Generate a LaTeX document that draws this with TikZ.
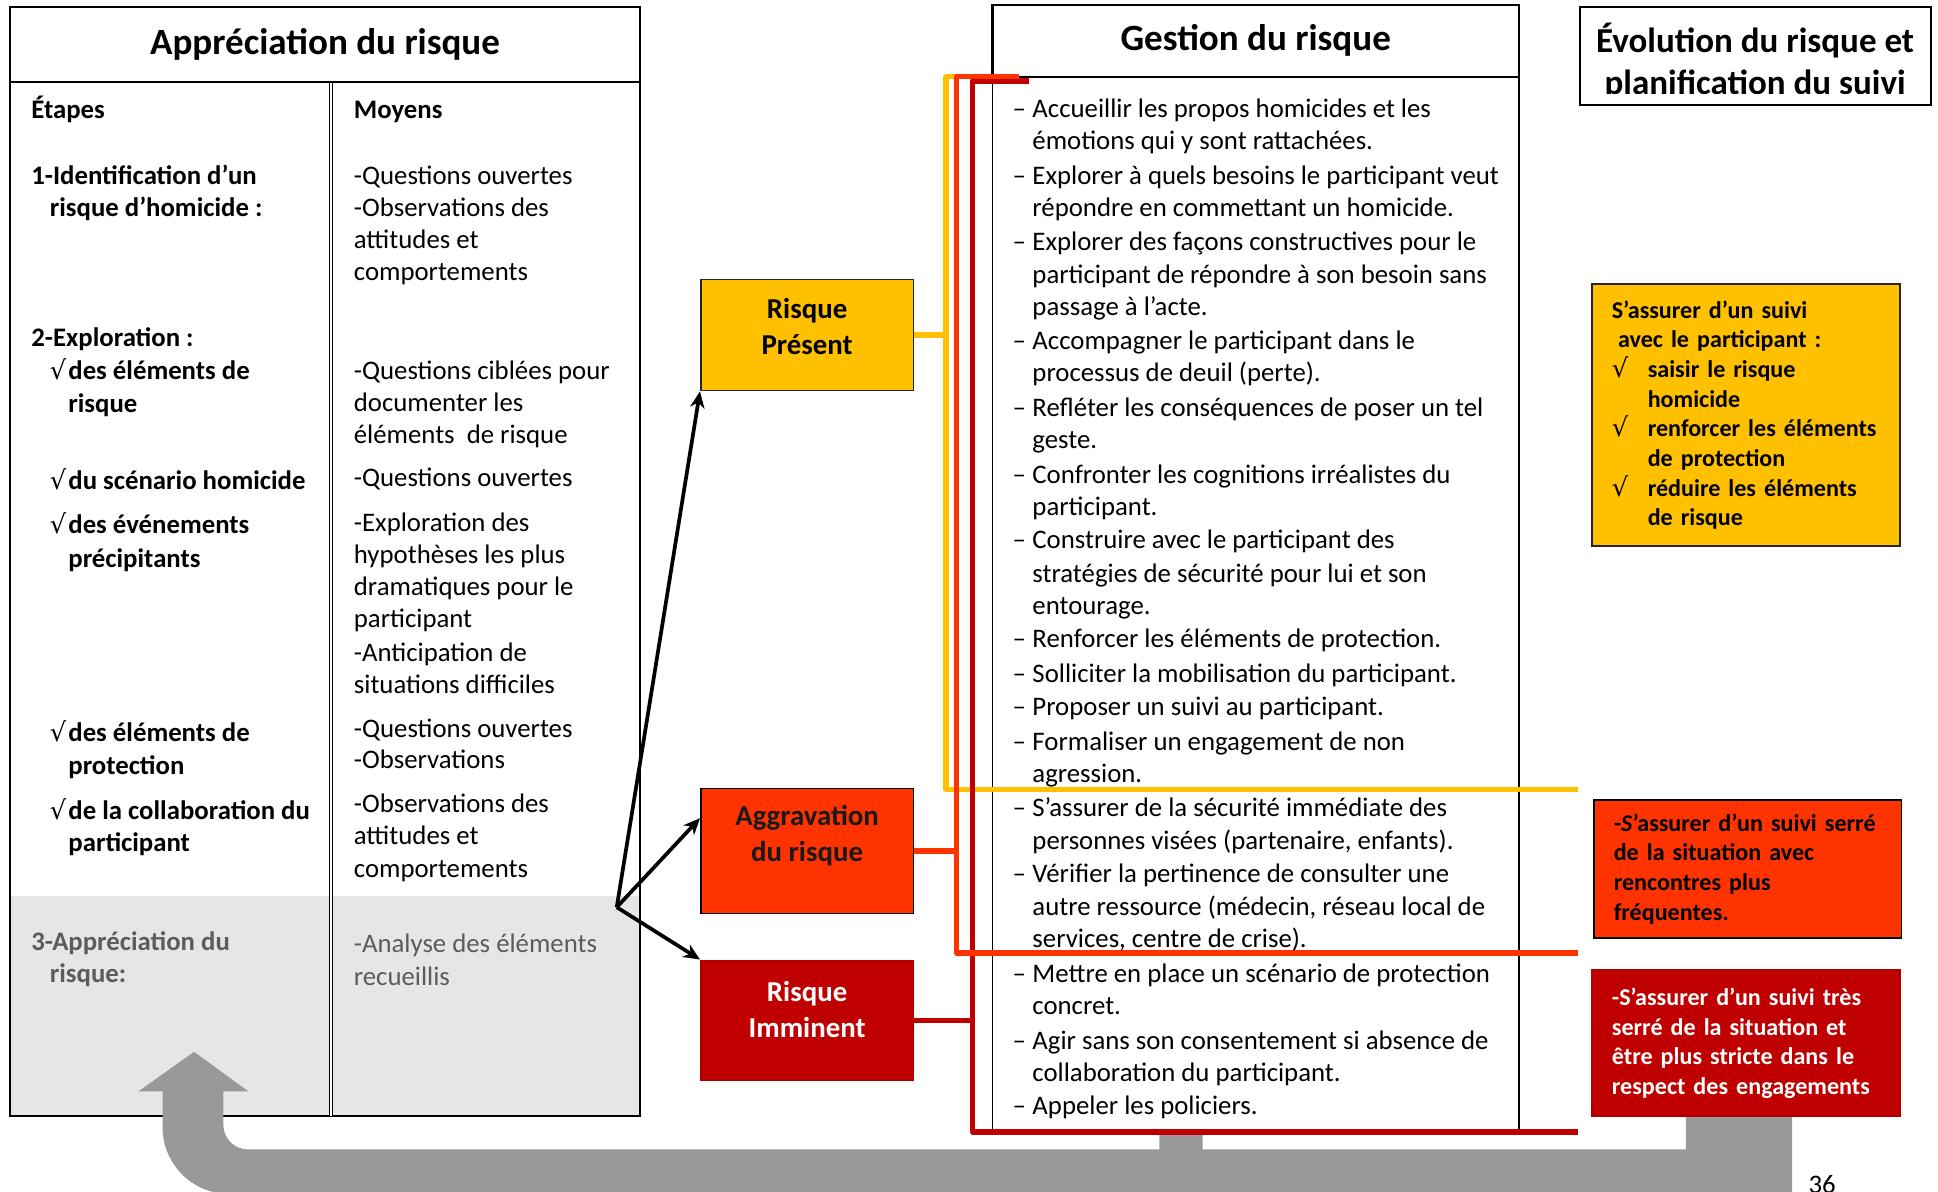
\documentclass[tikz,border=0pt]{standalone}
\usepackage{fontspec}
\setmainfont{Carlito}
\newfontfamily\checkfont{DejaVu Sans}
\usetikzlibrary{arrows.meta, positioning, calc}
\definecolor{riskgold}{HTML}{FFC000}
\definecolor{riskorange}{HTML}{FF3300}
\definecolor{riskred}{HTML}{C00000}
\definecolor{bandgray}{HTML}{999999}
\definecolor{shadegray}{HTML}{E6E6E6}
\definecolor{softtext}{HTML}{5C5C5C}
\newcommand{\coche}[1][9pt]{\makebox[#1][l]{{\checkfont\mdseries\fontsize{12.5}{12.5}\selectfont √}}}

\begin{document}
\begin{tikzpicture}[
  x=0.6pt, y=-0.6pt,
  titlebox/.style={draw, line width=1pt, inner sep=0pt, font=\fontsize{18}{22}\selectfont\bfseries},
  etape/.style={anchor=base west, inner sep=0pt, font=\fontsize{13}{15.6}\selectfont\bfseries},
  moyen/.style={anchor=base west, inner sep=0pt, font=\fontsize{13}{15.6}\selectfont},
  risk/.style={draw, line width=0.8pt, minimum width=103.2pt, inner sep=2pt, align=center, font=\fontsize{14}{17.4}\selectfont\bfseries},
  suivi/.style={draw, line width=0.8pt, inner xsep=9.6pt, text width=130pt, align=left, font=\fontsize{11.7}{14.4}\selectfont\bfseries},
  bracket/.style={line width=2.6pt, line join=round},
  choice/.style={-{Stealth[length=8pt,width=7pt]}, line width=1.8pt}
]
  \useasboundingbox (0,0) rectangle (1568,964);

  % Appréciation du risque
  \fill[shadegray] (8,725) rectangle (518,903);
  \draw[line width=1pt] (8,66) rectangle (518,903);
  \draw[double, double distance=1pt, line width=0.5pt] (268,66) -- (268,903);
  \node[titlebox, minimum width=306pt, minimum height=36pt] (appr) at (263,36) {Appréciation du risque};

  \foreach \x/\y/\t in {25/88/{Étapes}, 25/141/{1-Identification d’un}, 40/167/{risque d’homicide :},
      25/272/{2-Exploration :}, 40/299/{\coche des éléments de}, 55/326/{risque},
      40/388/{\coche du scénario homicide}, 40/424/{\coche des événements}, 55/451/{précipitants},
      40/592/{\coche des éléments de}, 55/619/{protection},
      40/655/{\coche de la collaboration du}, 55/681/{participant}}
    \node[etape] (e\y) at (\x,\y+8) {\t};
  \foreach \x/\y/\t in {25/761/{3-Appréciation du}, 40/787/{risque:}}
    \node[etape, text=softtext] (e\y) at (\x,\y+8) {\t};

  \node[etape] (moyens) at (286,96) {Moyens};
  \foreach \y/\t in {141/{-Questions ouvertes}, 167/{-Observations des}, 193/{attitudes et}, 219/{comportements},
      299/{-Questions ciblées pour}, 325/{documenter les}, 351/{éléments\ \ de risque},
      386/{-Questions ouvertes}, 422/{-Exploration des}, 448/{hypothèses les plus},
      474/{dramatiques pour le}, 500/{participant}, 527/{-Anticipation de}, 553/{situations difficiles},
      589/{-Questions ouvertes}, 614/{-Observations}, 649/{-Observations des}, 675/{attitudes et},
      702/{comportements}}
    \node[moyen] (m\y) at (286,\y+8) {\t};
  \foreach \y/\t in {763/{-Analyse des éléments}, 789/{recueillis}}
    \node[moyen, text=softtext] (m\y) at (286,\y+8) {\t};

  % big return arrow
  \fill[bandgray] (157,851) -- (201,883) -- (180.7,883) -- (180.7,910)
    arc[start angle=180, end angle=90, radius=20] -- (938,930) -- (938,918) -- (973,918) -- (973,930)
    -- (1364,930) -- (1364,903) -- (1450,903) -- (1450,966) -- (185.5,966)
    arc[start angle=90, end angle=180, radius=54] -- (131.5,883) -- (112,883) -- cycle;

  % Gestion du risque
  \node[titlebox, minimum width=255.6pt, minimum height=34.8pt] (gest) at (1016,33) {Gestion du risque};
  \draw[line width=0.8pt] (803,62) rectangle (1229,915);
  \foreach \y in {87,141,195,275,329,383,436,516,544,571,599,653,706,787,841,894}
    \node[moyen] (d\y) at (819,\y+8) {–};
  \foreach \y/\t in {87/{Accueillir les propos homicides et les}, 113/{émotions qui y sont rattachées.},
      141/{Explorer à quels besoins le participant veut}, 167/{répondre en commettant un homicide.},
      195/{Explorer des façons constructives pour le}, 221/{participant de répondre à son besoin sans},
      247/{passage à l’acte.}, 275/{Accompagner le participant dans le}, 301/{processus de deuil (perte).},
      329/{Refléter les conséquences de poser un tel}, 355/{geste.},
      383/{Confronter les cognitions irréalistes du}, 409/{participant.},
      436/{Construire avec le participant des}, 463/{stratégies de sécurité pour lui et son},
      489/{entourage.}, 516/{Renforcer les éléments de protection.},
      544/{Solliciter la mobilisation du participant.}, 571/{Proposer un suivi au participant.},
      599/{Formaliser un engagement de non}, 625/{agression.},
      653/{S’assurer de la sécurité immédiate des}, 679/{personnes visées (partenaire, enfants).},
      706/{Vérifier la pertinence de consulter une}, 733/{autre ressource (médecin, réseau local de},
      759/{services, centre de crise).}, 787/{Mettre en place un scénario de protection},
      813/{concret.}, 841/{Agir sans son consentement si absence de},
      867/{collaboration du participant.}, 894/{Appeler les policiers.}}
    \node[moyen] (g\y) at (835,\y+8) {\t};

  % Risk levels
  \node[risk, fill=riskgold, draw=black!85, minimum height=54pt, text depth=8pt] (present) at (653,271) {Risque\\Présent};
  \node[risk, fill=riskorange, draw=black, text=black!90, minimum height=60.6pt, text depth=17pt] (aggrav) at (653,688.5) {Aggravation\\du risque};
  \node[risk, fill=riskred, draw=riskred!90!black, text=white, minimum height=58.2pt, text depth=11pt] (imminent) at (653,825.5) {Risque\\Imminent};

  \coordinate (fork) at (499,734);
  \draw[choice] (fork) -- (present.south west);
  \draw[choice] (fork) -- (aggrav.163);
  \draw[choice] (fork) -- (imminent.north west);

  % Brackets
  \coordinate (ycorner) at (765.5,639);
  \coordinate (ocorner) at (774,771);
  \coordinate (rcorner) at (787,916);
  \draw[bracket, riskgold] (800,62) -- (765.5,62) -- (ycorner) -- (1277,639);
  \draw[bracket, riskred] (832.6,65.5) -- (787,65.5) -- (rcorner) -- (1277,916);
  \draw[bracket, riskorange] (824.5,62) -- (774,62) -- (ocorner) -- (1277,771);
  \draw[bracket, riskgold] (present.east) -- (present.east -| ycorner);
  \draw[bracket, riskorange] (aggrav.east) -- (aggrav.east -| ocorner);
  \draw[bracket, riskred] (imminent.east) -- (imminent.east -| rcorner);

  % Évolution du risque et planification du suivi
  \node[titlebox, minimum width=170.4pt, minimum height=47.4pt] (evol) at (1420,45.5) {};
  \begin{scope}
    \clip (1278,6) rectangle (1562,76);
    \node[align=center, inner sep=0pt, font=\fontsize{17}{20.4}\selectfont\bfseries] (evoltitle) at (1420,50) {Évolution du risque et\\planification du suivi};
  \end{scope}

  \node[suivi, fill=riskgold, draw=black!85, minimum width=149.4pt, minimum height=127.2pt] (suivi1) at (1412.5,336)
    {S’assurer d’un suivi\\\hspace*{3pt}avec le participant :\\
     \coche[17.4pt]saisir le risque\\\hspace*{17.4pt}homicide\\
     \coche[17.4pt]renforcer les éléments\\\hspace*{17.4pt}de protection\\
     \coche[17.4pt]réduire les éléments\\\hspace*{17.4pt}de risque};
  \node[suivi, fill=riskorange, draw=black, minimum width=147.6pt, minimum height=67.2pt] (suivi2) at (1414,703)
    {-\textit{S}’assurer d’un suivi serré\\de la situation avec\\rencontres plus\\fréquentes.};
  \node[suivi, fill=riskred, draw=riskred!90!black, text=white, minimum width=149.4pt, minimum height=70.8pt] (suivi3) at (1412.5,844)
    {-S’assurer d’un suivi très\\serré de la situation et\\être plus stricte dans le\\respect des engagements};

  \node[moyen] (page) at (1463,966) {36};
\end{tikzpicture}
\end{document}
